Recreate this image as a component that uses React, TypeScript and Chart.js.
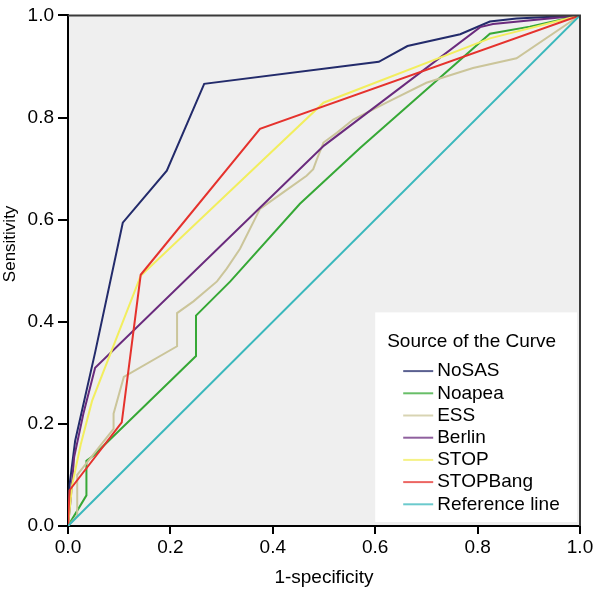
import React, { useEffect, useRef } from "react";
import { Chart, registerables } from "chart.js";

Chart.register(...registerables);

// ---- Data ----
const seriesNames = ["NoSAS", "Noapea", "ESS", "Berlin", "STOP", "STOPBang", "Reference line"];
const seriesColors = ["#232b6b", "#36a836", "#cbc59a", "#6a2b7d", "#f2ee5e", "#e5322d", "#3ab8bc"];

const nosasX = [0, 0.003, 0.014, 0.053, 0.107, 0.193, 0.266, 0.607, 0.663, 0.766, 0.824, 0.876, 1];
const nosasY = [0, 0.08, 0.167, 0.34, 0.594, 0.696, 0.866, 0.909, 0.94, 0.963, 0.988, 0.994, 1];

const noapeaX = [0, 0.036, 0.036, 0.05, 0.25, 0.25, 0.317, 0.453, 0.571, 0.824, 0.902, 1];
const noapeaY = [0, 0.06, 0.128, 0.138, 0.333, 0.412, 0.479, 0.631, 0.741, 0.964, 0.978, 1];

const essX = [0, 0.018, 0.018, 0.089, 0.089, 0.109, 0.213, 0.213, 0.245, 0.291, 0.31, 0.336, 0.375, 0.421, 0.466, 0.479, 0.486, 0.499, 0.525, 0.557, 0.622, 0.7, 0.791, 0.876, 1];
const essY = [0, 0.02, 0.1, 0.19, 0.22, 0.292, 0.352, 0.417, 0.44, 0.479, 0.504, 0.543, 0.621, 0.654, 0.686, 0.699, 0.718, 0.751, 0.77, 0.796, 0.829, 0.868, 0.897, 0.916, 1];

const berlinX = [0, 0.005, 0.012, 0.03, 0.053, 0.5, 0.805, 0.83, 1];
const berlinY = [0, 0.05, 0.135, 0.22, 0.31, 0.745, 0.977, 0.983, 1];

const stopX = [0, 0.008, 0.025, 0.047, 0.142, 0.499, 0.824, 1];
const stopY = [0, 0.08, 0.16, 0.245, 0.49, 0.829, 0.955, 1];

const stopbangX = [0, 0.003, 0.105, 0.142, 0.375, 1];
const stopbangY = [0, 0.07, 0.203, 0.492, 0.778, 1];

const referenceX = [0, 1];
const referenceY = [0, 1];

const xTickValues = [0, 0.2, 0.4, 0.6, 0.8, 1.0];
const yTickValues = [0, 0.2, 0.4, 0.6, 0.8, 1.0];

const legendTitle = "Source of the Curve";
const xTitle = "1-specificity";
const yTitle = "Sensitivity";

const FONT = "'Liberation Sans', Arial, Helvetica, sans-serif";

function toPoints(xs: number[], ys: number[]) {
  return xs.map((x, i) => ({ x, y: ys[i] }));
}

const allSeries = [
  toPoints(nosasX, nosasY),
  toPoints(noapeaX, noapeaY),
  toPoints(essX, essY),
  toPoints(berlinX, berlinY),
  toPoints(stopX, stopY),
  toPoints(stopbangX, stopbangY),
  toPoints(referenceX, referenceY),
];

const framePlugin = {
  id: "frame",
  beforeDraw(chart: any) {
    const { ctx, chartArea: ca, width, height } = chart;
    ctx.save();
    ctx.fillStyle = "#ffffff";
    ctx.fillRect(0, 0, width, height);
    ctx.fillStyle = "#efefef";
    ctx.fillRect(ca.left, ca.top, ca.right - ca.left, ca.bottom - ca.top);
    ctx.restore();
  },
  afterDraw(chart: any) {
    const { ctx, chartArea: ca } = chart;
    // y-axis title (sits above the vertical centre in the reference)
    ctx.save();
    ctx.translate(10.5, ca.top + 228.5);
    ctx.rotate(-Math.PI / 2);
    ctx.font = `17px ${FONT}`;
    ctx.fillStyle = "#000";
    ctx.textAlign = "center";
    ctx.textBaseline = "middle";
    ctx.fillText(yTitle, 0, 0);
    ctx.restore();
  },
  afterDatasetsDraw(chart: any) {
    const { ctx, chartArea: ca } = chart;
    const xs = chart.scales.x;
    ctx.save();
    // top and right frame lines
    ctx.strokeStyle = "#3a3a3a";
    ctx.lineWidth = 2;
    ctx.beginPath();
    ctx.moveTo(ca.left, ca.top);
    ctx.lineTo(ca.right, ca.top);
    ctx.lineTo(ca.right, ca.bottom);
    ctx.stroke();

    // legend box
    const lx = xs.getPixelForValue(0.6);
    const ly = ca.top + 297;
    const lr = ca.right - 3;
    const lb = ca.bottom - 4;
    ctx.fillStyle = "#ffffff";
    ctx.fillRect(lx, ly, lr - lx, lb - ly);

    ctx.font = `19px ${FONT}`;
    ctx.fillStyle = "#000";
    ctx.textBaseline = "middle";
    ctx.textAlign = "left";
    ctx.fillText(legendTitle, lx + 12, ly + 29);

    const itemTop = ly + 58.7;
    const step = 22.2;
    seriesNames.forEach((name, i) => {
      const y = itemTop + i * step;
      ctx.globalAlpha = 0.75;
      ctx.strokeStyle = seriesColors[i];
      ctx.lineWidth = 2;
      ctx.beginPath();
      ctx.moveTo(lx + 28, y);
      ctx.lineTo(lx + 58, y);
      ctx.stroke();
      ctx.globalAlpha = 1;
      ctx.fillStyle = "#000";
      ctx.fillText(name, lx + 62, y);
    });
    ctx.restore();
  },
};

export default function App() {
  const canvasRef = useRef<HTMLCanvasElement | null>(null);

  useEffect(() => {
    if (!canvasRef.current) return;
    const chart = new Chart(canvasRef.current, {
      type: "line",
      data: {
        datasets: allSeries.map((pts, i) => ({
          label: seriesNames[i],
          data: pts,
          borderColor: seriesColors[i],
          backgroundColor: seriesColors[i],
          borderWidth: 2,
          pointRadius: 0,
          fill: false,
          tension: 0,
          order: 10 - i,
        })),
      },
      options: {
        animation: false,
        responsive: false,
        maintainAspectRatio: false,
        parsing: false as any,
        layout: { padding: { left: 0, top: 12, right: 16, bottom: 0 } },
        plugins: {
          legend: { display: false },
          tooltip: { enabled: false },
        },
        scales: {
          x: {
            type: "linear",
            min: 0,
            max: 1,
            afterBuildTicks: (s: any) => {
              s.ticks = xTickValues.map((v) => ({ value: v }));
            },
            afterFit: (s: any) => {
              s.height = 66;
            },
            ticks: {
              autoSkip: false,
              maxRotation: 0,
              color: "#000",
              padding: 2,
              font: { family: FONT, size: 19 },
              callback: (v: any) => Number(v).toFixed(1),
            },
            grid: {
              drawOnChartArea: false,
              drawTicks: true,
              tickLength: 8,
              color: "#000",
              lineWidth: 2,
            },
            border: { display: true, color: "#000", width: 2 },
            title: {
              display: true,
              text: xTitle,
              color: "#000",
              font: { family: FONT, size: 19 },
              padding: { top: 0, bottom: 3 },
            },
          },
          y: {
            type: "linear",
            min: 0,
            max: 1,
            afterBuildTicks: (s: any) => {
              s.ticks = yTickValues.map((v) => ({ value: v }));
            },
            afterFit: (s: any) => {
              s.width = 68;
            },
            ticks: {
              autoSkip: false,
              color: "#000",
              padding: 4,
              font: { family: FONT, size: 19 },
              callback: (v: any) => Number(v).toFixed(1),
            },
            grid: {
              drawOnChartArea: false,
              drawTicks: true,
              tickLength: 10,
              color: "#000",
              lineWidth: 2,
            },
            border: { display: true, color: "#000", width: 2 },
            title: { display: false },
          },
        },
      },
      plugins: [framePlugin],
    });
    return () => chart.destroy();
  }, []);

  return (
    <div style={{ position: "absolute", left: 0, top: 0, width: 596, height: 592 }}>
      <canvas ref={canvasRef} width={596} height={592} style={{ display: "block" }} />
    </div>
  );
}
